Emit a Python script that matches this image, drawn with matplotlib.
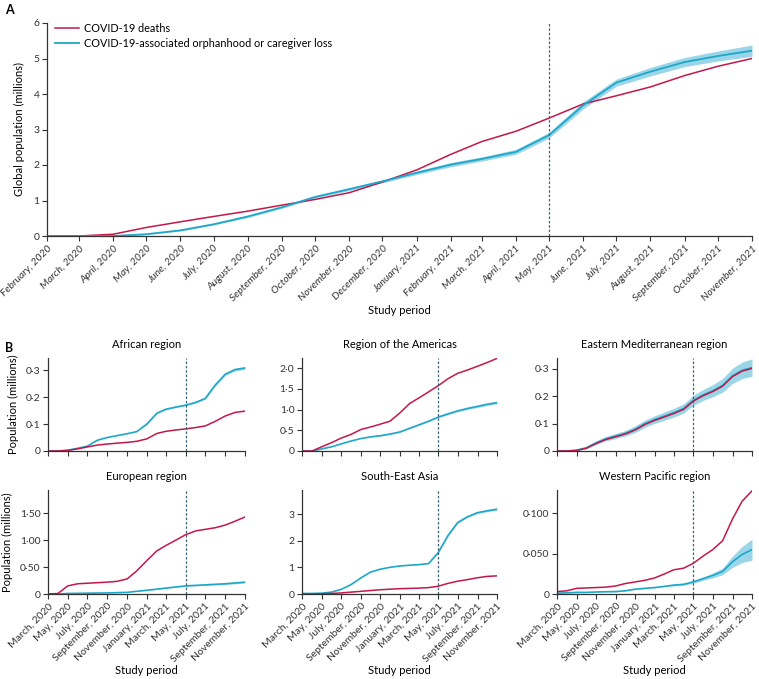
import pandas as pd
import matplotlib
matplotlib.use("Agg")
import matplotlib.pyplot as plt

plt.rcParams['font.family'] = ['Lato', 'DejaVu Sans']
plt.rcParams['font.size'] = 7.5

RED = "#c2184a"
CYAN = "#1ea7c9"
BAND = "#8fd2e6"
VLINE = "#3f6275"
AXC = "#333333"

# ---- panel A : global, monthly from Feb 2020 ----
months_a = pd.date_range("2020-02-01", "2021-11-01", freq="MS")
deaths_global = [0, 0.0, 0.05, 0.24, 0.40, 0.55, 0.70, 0.87, 1.03, 1.22, 1.52,
                 1.86, 2.30, 2.66, 2.95, 3.32, 3.72, 3.95, 4.20, 4.52, 4.78, 5.00]
orphan_global = [0, 0, 0.0, 0.05, 0.16, 0.33, 0.55, 0.81, 1.10, 1.32, 1.54,
                 1.78, 2.01, 2.17, 2.37, 2.84, 3.68, 4.32, 4.63, 4.90, 5.07, 5.22]
orphan_global_halfwidth = [0, 0, 0, 0.01, 0.02, 0.02, 0.03, 0.03, 0.03, 0.04, 0.04,
                           0.05, 0.06, 0.06, 0.07, 0.08, 0.10, 0.10, 0.12, 0.13, 0.14, 0.16]

# ---- panel B : regional, monthly from Mar 2020 ----
months_b = pd.date_range("2020-03-01", "2021-11-01", freq="MS")
regions = ["African region", "Region of the Americas", "Eastern Mediterranean region",
           "European region", "South-East Asia", "Western Pacific region"]
deaths_reg = [
    [0, 0, 0.002, 0.008, 0.015, 0.022, 0.026, 0.029, 0.032, 0.036, 0.045, 0.065,
     0.073, 0.078, 0.082, 0.087, 0.093, 0.110, 0.130, 0.143, 0.148],
    [0, 0, 0.10, 0.20, 0.31, 0.40, 0.52, 0.58, 0.65, 0.72, 0.92, 1.15,
     1.28, 1.43, 1.58, 1.75, 1.88, 1.96, 2.05, 2.14, 2.24],
    [0, 0, 0.002, 0.010, 0.027, 0.042, 0.052, 0.062, 0.077, 0.097, 0.112, 0.125,
     0.137, 0.152, 0.182, 0.202, 0.217, 0.237, 0.272, 0.292, 0.302],
    [0, 0.01, 0.15, 0.19, 0.20, 0.21, 0.22, 0.235, 0.28, 0.43, 0.62, 0.80,
     0.90, 1.00, 1.10, 1.17, 1.20, 1.23, 1.28, 1.35, 1.43],
    [0, 0, 0.01, 0.02, 0.04, 0.07, 0.10, 0.13, 0.16, 0.18, 0.20, 0.21,
     0.22, 0.24, 0.29, 0.40, 0.48, 0.54, 0.61, 0.66, 0.68],
    [0.003, 0.004, 0.007, 0.0075, 0.008, 0.0085, 0.010, 0.013, 0.015, 0.017, 0.020, 0.025,
     0.030, 0.032, 0.038, 0.047, 0.055, 0.066, 0.093, 0.115, 0.128],
]
orphan_reg = [
    [0, 0, 0.003, 0.010, 0.018, 0.040, 0.050, 0.057, 0.064, 0.072, 0.100, 0.140,
     0.155, 0.163, 0.170, 0.180, 0.195, 0.245, 0.285, 0.302, 0.308],
    [0, 0, 0.05, 0.10, 0.17, 0.24, 0.30, 0.34, 0.37, 0.41, 0.46, 0.55,
     0.63, 0.72, 0.82, 0.90, 0.97, 1.03, 1.08, 1.13, 1.17],
    [0, 0, 0.003, 0.012, 0.030, 0.045, 0.055, 0.065, 0.080, 0.100, 0.115, 0.128,
     0.140, 0.155, 0.185, 0.205, 0.220, 0.240, 0.275, 0.295, 0.305],
    [0, 0, 0.01, 0.012, 0.015, 0.017, 0.02, 0.025, 0.03, 0.05, 0.07, 0.09,
     0.11, 0.13, 0.15, 0.16, 0.17, 0.18, 0.19, 0.205, 0.22],
    [0.02, 0.02, 0.03, 0.07, 0.17, 0.35, 0.60, 0.82, 0.93, 1.00, 1.05, 1.08,
     1.10, 1.14, 1.55, 2.20, 2.68, 2.90, 3.05, 3.12, 3.18],
    [0.001, 0.0015, 0.002, 0.002, 0.0025, 0.0028, 0.003, 0.004, 0.006, 0.007, 0.008, 0.0095,
     0.011, 0.012, 0.015, 0.019, 0.023, 0.028, 0.040, 0.049, 0.055],
]
orphan_reg_halfwidth = [
    [0] * 10 + [0.002] * 6 + [0.003, 0.004, 0.004, 0.005, 0.005],
    [0] * 8 + [0.01] * 6 + [0.015, 0.02, 0.02, 0.025, 0.025, 0.03, 0.03],
    [0, 0, 0.002, 0.004, 0.006, 0.008, 0.009, 0.01, 0.012, 0.013, 0.014, 0.015,
     0.016, 0.017, 0.018, 0.02, 0.022, 0.025, 0.028, 0.03, 0.032],
    [0] * 10 + [0.004] * 4 + [0.006, 0.008, 0.01, 0.012, 0.014, 0.016, 0.018],
    [0] * 14 + [0.02, 0.03, 0.03, 0.03, 0.035, 0.035, 0.04],
    [0.0002] * 12 + [0.001, 0.0012, 0.0015, 0.002, 0.003, 0.004, 0.007, 0.010, 0.013],
]
yticks_reg = [[0, 0.1, 0.2, 0.3], [0, 0.5, 1.0, 1.5, 2.0], [0, 0.1, 0.2, 0.3],
              [0, 0.5, 1.0, 1.5], [0, 1, 2, 3], [0, 0.05, 0.10]]
ylabels_reg = [["0", "0·1", "0·2", "0·3"], ["0", "0·5", "1·0", "1·5", "2·0"],
               ["0", "0·1", "0·2", "0·3"], ["0", "0·50", "1·00", "1·50"],
               ["0", "1", "2", "3"], ["0", "0·050", "0·100"]]
ytop_reg = [0.345, 2.25, 0.34, 1.93, 3.9, 0.129]

cutoff = pd.Timestamp("2021-05-01")
W, H = 759, 679


def style_axes(ax):
    for s in ["top", "right"]:
        ax.spines[s].set_visible(False)
    for s in ["left", "bottom"]:
        ax.spines[s].set_color(AXC)
        ax.spines[s].set_linewidth(0.9)
    ax.tick_params(colors=AXC, length=3.5, width=0.8, labelsize=7.5, pad=2)


fig = plt.figure(figsize=(W / 100, H / 100), dpi=100)

# panel A
axA = fig.add_axes([47 / W, 1 - 236 / H, (752 - 47) / W, (236 - 23) / H])
style_axes(axA)
lo = [m - h for m, h in zip(orphan_global, orphan_global_halfwidth)]
hi = [m + h for m, h in zip(orphan_global, orphan_global_halfwidth)]
axA.fill_between(months_a, lo, hi, color=BAND, lw=0, alpha=0.9)
axA.plot(months_a, deaths_global, color=RED, lw=1.1, label="COVID-19 deaths")
axA.plot(months_a, orphan_global, color=CYAN, lw=1.3,
         label="COVID-19-associated orphanhood or caregiver loss")
axA.axvline(cutoff, ymax=1, color=VLINE, ls=(0, (2, 1.5)), lw=0.9)
axA.set_xlim(months_a[0], months_a[-1])
axA.set_ylim(0, 6)
axA.set_yticks(range(7))
axA.set_xticks(months_a)
axA.set_xticklabels([d.strftime("%B, %Y") for d in months_a], rotation=45,
                    ha="right", rotation_mode="anchor", style="italic", fontsize=7.5)
axA.set_ylabel("Global population (millions)", fontsize=8, labelpad=6)
axA.set_xlabel("Study period", fontsize=8, labelpad=1)
axA.legend(loc="upper left", bbox_to_anchor=(0.005, 1.02), frameon=False,
           fontsize=7.8, handlelength=2.2, handletextpad=0.5, labelspacing=0.35,
           borderaxespad=0)
fig.text(5 / W, 1 - 10 / H, "A", fontsize=9, fontweight="bold", va="center")
fig.text(5 / W, 1 - 348 / H, "B", fontsize=9, fontweight="bold", va="center")

# panel B
cols = [(48, 245), (302, 497), (557, 752)]
rows = [(358, 451), (490, 594)]
for i in range(6):
    r, c = divmod(i, 3)
    x0, x1 = cols[c]
    y0, y1 = rows[r]
    ax = fig.add_axes([x0 / W, 1 - y1 / H, (x1 - x0) / W, (y1 - y0) / H])
    style_axes(ax)
    lo = [m - h for m, h in zip(orphan_reg[i], orphan_reg_halfwidth[i])]
    hi = [m + h for m, h in zip(orphan_reg[i], orphan_reg_halfwidth[i])]
    ax.fill_between(months_b, lo, hi, color=BAND, lw=0, alpha=0.9)
    ax.plot(months_b, orphan_reg[i], color=CYAN, lw=1.2)
    ax.plot(months_b, deaths_reg[i], color=RED, lw=1.1)
    ax.axvline(cutoff, color=VLINE, ls=(0, (2, 1.5)), lw=0.9)
    ax.set_xlim(months_b[0], months_b[-1])
    ax.set_ylim(0, ytop_reg[i])
    ax.set_yticks(yticks_reg[i])
    ax.set_yticklabels(ylabels_reg[i])
    ax.set_xticks(months_b[::2])
    ax.set_title(regions[i], fontsize=8, pad=7)
    if r == 1:
        ax.set_xticklabels([d.strftime("%B, %Y") for d in months_b[::2]], rotation=45,
                           ha="right", rotation_mode="anchor", fontsize=7.5)
        ax.set_xlabel("Study period", fontsize=8, labelpad=1)
    else:
        ax.set_xticklabels([])
    if c == 0:
        ax.set_ylabel("Population (millions)", fontsize=8, labelpad=5)

fig.savefig("out.png", dpi=100)
